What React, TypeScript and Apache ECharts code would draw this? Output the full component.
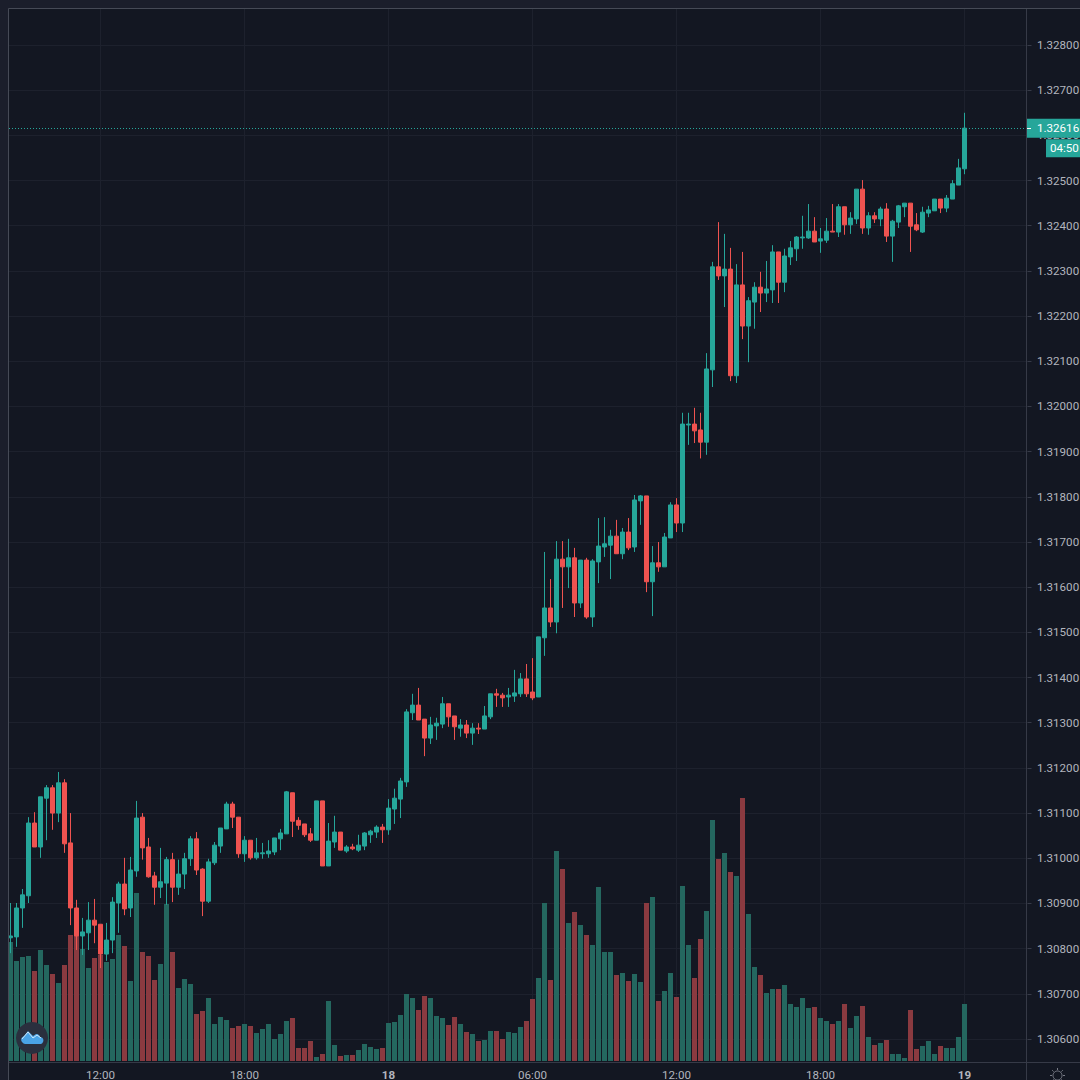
import React, { useEffect, useRef } from "react";
import * as echarts from "echarts";

const opens = [1.30824,1.30826,1.30890,1.30917,1.31078,1.31025,1.31133,1.31156,1.31100,1.31167,
1.31034,1.30890,1.30828,1.30835,1.30863,1.30854,1.30788,1.30819,1.30901,1.30943,
1.30890,1.30972,1.31091,1.31025,1.30961,1.30936,1.30945,1.30997,1.30936,1.30965,
1.30999,1.31043,1.30976,1.30905,1.30990,1.31027,1.31065,1.31120,1.31091,1.31010,
1.31040,1.31001,1.31010,1.31010,1.31014,1.31043,1.31054,1.31145,1.31084,1.31076,
1.31054,1.31040,1.31127,1.30983,1.31036,1.31058,1.31016,1.31025,1.31018,1.31027,
1.31052,1.31058,1.31069,1.31063,1.31109,1.31131,1.31169,1.31322,1.31339,1.31308,
1.31266,1.31293,1.31297,1.31342,1.31315,1.31288,1.31295,1.31277,1.31288,1.31286,
1.31313,1.31364,1.31361,1.31357,1.31359,1.31364,1.31397,1.31368,1.31357,1.31488,
1.31554,1.31523,1.31662,1.31645,1.31665,1.31565,1.31660,1.31534,1.31656,1.31689,
1.31693,1.31713,1.31674,1.31722,1.31689,1.31791,1.31802,1.31612,1.31654,1.31645,
1.31709,1.31782,1.31742,1.31959,1.31961,1.31948,1.31921,1.32081,1.32309,1.32289,
1.32304,1.32068,1.32269,1.32178,1.32231,1.32264,1.32251,1.32258,1.32342,1.32275,
1.32331,1.32349,1.32373,1.32373,1.32388,1.32366,1.32368,1.32388,1.32386,1.32442,
1.32402,1.32415,1.32481,1.32395,1.32422,1.32415,1.32437,1.32377,1.32408,1.32442,
1.32450,1.32402,1.32386,1.32428,1.32433,1.32459,1.32439,1.32459,1.32490,1.32526];

const closes = [1.30828,1.30890,1.30919,1.31078,1.31025,1.31136,1.31156,1.31100,1.31167,1.31032,
1.30890,1.30828,1.30837,1.30863,1.30852,1.30788,1.30819,1.30903,1.30943,1.30888,
1.30974,1.31089,1.31023,1.30959,1.30936,1.30948,1.30997,1.30936,1.30965,1.30999,
1.31043,1.30974,1.30905,1.30992,1.31029,1.31067,1.31120,1.31091,1.31010,1.31040,
1.31001,1.31012,1.31012,1.31016,1.31045,1.31056,1.31147,1.31082,1.31073,1.31052,
1.31040,1.31127,1.30983,1.31038,1.31058,1.31018,1.31025,1.31021,1.31029,1.31056,
1.31060,1.31069,1.31063,1.31111,1.31133,1.31171,1.31324,1.31339,1.31306,1.31266,
1.31295,1.31299,1.31342,1.31313,1.31291,1.31295,1.31277,1.31288,1.31286,1.31315,
1.31364,1.31361,1.31355,1.31361,1.31366,1.31397,1.31364,1.31355,1.31490,1.31554,
1.31523,1.31662,1.31645,1.31665,1.31565,1.31660,1.31534,1.31658,1.31691,1.31696,
1.31713,1.31674,1.31722,1.31687,1.31793,1.31802,1.31612,1.31654,1.31645,1.31711,
1.31782,1.31742,1.31961,1.31961,1.31946,1.31921,1.32083,1.32309,1.32289,1.32304,
1.32068,1.32269,1.32178,1.32234,1.32264,1.32251,1.32260,1.32342,1.32275,1.32333,
1.32351,1.32375,1.32375,1.32388,1.32364,1.32371,1.32388,1.32386,1.32442,1.32402,
1.32417,1.32481,1.32395,1.32422,1.32415,1.32437,1.32377,1.32410,1.32444,1.32450,
1.32399,1.32391,1.32430,1.32435,1.32459,1.32439,1.32461,1.32493,1.32528,1.32616];

const lows = [1.30790,1.30804,1.30846,1.30901,1.31025,1.31001,1.31040,1.31063,1.31080,1.31012,
1.30852,1.30797,1.30786,1.30797,1.30812,1.30757,1.30773,1.30790,1.30835,1.30874,
1.30870,1.30959,1.30997,1.30957,1.30897,1.30912,1.30897,1.30903,1.30919,1.30932,
1.30983,1.30963,1.30872,1.30901,1.30985,1.31012,1.31065,1.31067,1.31001,1.30992,
1.30997,1.30997,1.30999,1.31001,1.31007,1.31018,1.31054,1.31047,1.31063,1.31047,
1.31036,1.31040,1.30983,1.30983,1.31023,1.31018,1.31012,1.31018,1.31014,1.31018,
1.31034,1.31045,1.31034,1.31052,1.31076,1.31089,1.31158,1.31306,1.31306,1.31226,
1.31253,1.31262,1.31288,1.31291,1.31262,1.31269,1.31266,1.31251,1.31275,1.31286,
1.31308,1.31335,1.31335,1.31335,1.31346,1.31357,1.31357,1.31350,1.31357,1.31448,
1.31512,1.31498,1.31554,1.31598,1.31534,1.31554,1.31530,1.31512,1.31609,1.31667,
1.31618,1.31674,1.31662,1.31682,1.31678,1.31738,1.31589,1.31536,1.31634,1.31645,
1.31709,1.31722,1.31722,1.31915,1.31919,1.31885,1.31893,1.32043,1.32280,1.32220,
1.32056,1.32052,1.32149,1.32098,1.32172,1.32209,1.32231,1.32229,1.32229,1.32253,
1.32313,1.32322,1.32349,1.32371,1.32364,1.32340,1.32362,1.32386,1.32375,1.32380,
1.32382,1.32404,1.32382,1.32380,1.32406,1.32399,1.32364,1.32320,1.32395,1.32419,
1.32342,1.32388,1.32384,1.32419,1.32433,1.32428,1.32430,1.32459,1.32490,1.32514];

const highs = [1.30901,1.30901,1.30932,1.31091,1.31102,1.31136,1.31162,1.31162,1.31191,1.31175,
1.31100,1.30908,1.30868,1.30903,1.30910,1.30854,1.30857,1.30914,1.30948,1.31001,
1.31003,1.31127,1.31100,1.31045,1.30970,1.31023,1.31003,1.31012,1.30997,1.31012,
1.31049,1.31058,1.30978,1.30999,1.31036,1.31067,1.31125,1.31125,1.31091,1.31049,
1.31040,1.31045,1.31034,1.31040,1.31045,1.31065,1.31149,1.31145,1.31091,1.31076,
1.31067,1.31127,1.31127,1.31078,1.31094,1.31058,1.31029,1.31032,1.31052,1.31058,
1.31063,1.31073,1.31076,1.31131,1.31154,1.31178,1.31330,1.31364,1.31377,1.31308,
1.31313,1.31311,1.31357,1.31342,1.31315,1.31308,1.31306,1.31299,1.31299,1.31337,
1.31364,1.31375,1.31366,1.31377,1.31417,1.31410,1.31430,1.31443,1.31490,1.31678,
1.31618,1.31702,1.31702,1.31707,1.31687,1.31660,1.31665,1.31662,1.31753,1.31755,
1.31727,1.31749,1.31731,1.31753,1.31804,1.31804,1.31802,1.31691,1.31700,1.31720,
1.31788,1.31797,1.31986,1.31986,1.31997,1.31986,1.32118,1.32320,1.32408,1.32382,
1.32351,1.32315,1.32342,1.32242,1.32275,1.32298,1.32322,1.32357,1.32342,1.32349,
1.32366,1.32377,1.32422,1.32448,1.32419,1.32395,1.32417,1.32448,1.32448,1.32442,
1.32430,1.32481,1.32501,1.32430,1.32430,1.32442,1.32450,1.32413,1.32446,1.32450,
1.32450,1.32428,1.32442,1.32444,1.32459,1.32459,1.32468,1.32501,1.32548,1.32650];

const volumes = [119,100,104,105,90,111,96,87,78,96,
126,125,112,93,103,106,99,102,126,115,
80,168,109,105,81,97,157,109,73,82,
77,47,50,63,37,44,41,33,35,37,
35,28,32,37,22,27,40,43,13,13,
20,4,7,60,16,5,6,6,11,17,
14,12,13,38,39,46,67,63,51,65,
63,45,43,36,44,37,29,27,20,21,
30,30,22,29,28,34,40,62,83,158,
81,210,192,138,149,136,126,116,174,109,
109,86,88,80,87,79,158,164,60,70,
88,64,175,116,83,122,150,241,202,208,
189,185,263,147,94,86,68,72,72,76,
57,54,63,53,54,43,40,37,40,57,
33,45,55,24,16,18,21,7,7,3,
51,12,15,20,7,15,13,13,24,57];

const slotCount = 170;
const tickIndexes = [15, 39, 63, 87, 111, 135, 159];
const tickLabels = ["12:00", "18:00", "18", "06:00", "12:00", "18:00", "19"];
const lastPrice = 1.32616;
const lastPriceLabel = "1.32616";
const countdownLabel = "04:50";

const UP = "#26a69a";
const DOWN = "#ef5350";
const UP_VOL = "#24675f";
const DOWN_VOL = "#8a3a40";
const BG = "#131722";
const MARGIN = "#1b1e2b";
const LINE = "#363a47";
const GRID = "#1d212d";
const TEXT = "#b2b5be";
const FONT = "Roboto, sans-serif";
const FONT_SIZE = 11.6;

echarts.graphic.registerShape(
  "tvcloud",
  echarts.graphic.extendPath(
    "M1 12 C-1 9 1 7 3 6 L7 1 L12 6 L15 4 C18 4 19 6 19 7 C22 7 23 10 22 12 C21 14 20 14 19 14 L4 14 C3 14 2 13 1 12 Z",
    {}
  )
);

export default function App() {
  const ref = useRef<HTMLDivElement>(null);
  useEffect(() => {
    if (!ref.current) return;
    const chart = echarts.init(ref.current, undefined, { renderer: "svg" });
    const categories = Array.from({ length: slotCount }, (_, i) => String(i));
    const tickAt = (i: number) => tickIndexes.indexOf(i);

    chart.setOption({
      animation: false,
      backgroundColor: BG,
      grid: [
        { left: 7.5, top: -0.18, width: 1020, height: 1084.36, outerBoundsMode: "none" },
        { left: 7.5, top: 9, width: 1020, height: 1052, outerBoundsMode: "none" },
      ],
      xAxis: [
        {
          type: "category",
          gridIndex: 0,
          data: categories,
          show: false,
        },
        {
          type: "category",
          gridIndex: 1,
          data: categories,
          axisLine: { show: false },
          axisTick: { show: false, alignWithLabel: true, interval: (i: number) => tickAt(i) >= 0 },
          splitLine: {
            show: true,
            alignWithLabel: true,
            interval: (i: number) => tickAt(i) >= 0,
            lineStyle: { color: GRID, width: 1 },
          },
          axisLabel: {
            interval: (i: number) => tickAt(i) >= 0,
            margin: 8,
            lineHeight: 11,
            hideOverlap: false,
            color: TEXT,
            fontFamily: FONT,
            fontSize: FONT_SIZE,
            formatter: (_: string, i: number) => {
              const label = tickLabels[tickAt(i)] ?? "";
              return label.length === 2 ? `{b|${label}}` : label;
            },
            rich: { b: { fontWeight: "bold", color: TEXT, fontFamily: FONT, fontSize: FONT_SIZE, lineHeight: 11 } },
          },
        },
      ],
      yAxis: [
        {
          type: "value",
          gridIndex: 0,
          position: "right",
          min: 1.305,
          max: 1.329,
          interval: 0.001,
          axisLine: { show: false },
          axisTick: { show: true, length: 4, lineStyle: { color: LINE } },
          splitLine: { show: true, lineStyle: { color: GRID, width: 1 } },
          axisLabel: {
            margin: 9.5,
            color: TEXT,
            fontFamily: FONT,
            fontSize: FONT_SIZE,
            formatter: (v: number) => (v < 1.3055 || v > 1.3285 ? "" : v.toFixed(5)),
          },
        },
        {
          type: "value",
          gridIndex: 1,
          min: 0,
          max: 1052,
          show: false,
          splitLine: { show: false },
        },
      ],
      series: [
        {
          type: "bar",
          xAxisIndex: 1,
          yAxisIndex: 1,
          z: 1,
          barWidth: 5,
          data: volumes.map((v, i) => ({
            value: v,
            itemStyle: { color: closes[i] >= opens[i] ? UP_VOL : DOWN_VOL },
          })),
        },
        {
          type: "candlestick",
          xAxisIndex: 0,
          yAxisIndex: 0,
          z: 2,
          barWidth: 4,
          itemStyle: {
            color: UP,
            color0: DOWN,
            borderColor: UP,
            borderColor0: DOWN,
            borderWidth: 1,
          },
          data: opens.map((o, i) => [o, closes[i], lows[i], highs[i]]),
        },
      ],
    });

    const py = chart.convertToPixel({ yAxisIndex: 0 }, lastPrice) as number;
    const lineY = Math.floor(py) + 0.5;
    const sunTicks = Array.from({ length: 8 }, (_, k) => {
      const a = (k * Math.PI) / 4;
      return {
        type: "line",
        z: 50,
        shape: {
          x1: 1057.5 + 5.5 * Math.cos(a),
          y1: 1075.5 + 5.5 * Math.sin(a),
          x2: 1057.5 + 7.5 * Math.cos(a),
          y2: 1075.5 + 7.5 * Math.sin(a),
        },
        style: { stroke: "#787b86", lineWidth: 1 },
      };
    });

    chart.setOption({
      graphic: [
        { type: "line", z: 30, shape: { x1: 9, y1: lineY, x2: 1027, y2: lineY }, style: { stroke: UP, lineWidth: 1, lineDash: [1, 2] } },
        { type: "rect", z: 40, shape: { x: 0, y: 0, width: 1080, height: 9 }, style: { fill: MARGIN } },
        { type: "rect", z: 40, shape: { x: 0, y: 0, width: 9, height: 1080 }, style: { fill: MARGIN } },
        { type: "line", z: 41, shape: { x1: 8.5, y1: 8.5, x2: 1080, y2: 8.5 }, style: { stroke: "#464a56", lineWidth: 1 } },
        { type: "line", z: 41, shape: { x1: 8.5, y1: 8.5, x2: 8.5, y2: 1080 }, style: { stroke: "#464a56", lineWidth: 1 } },
        { type: "line", z: 41, shape: { x1: 1026.5, y1: 9, x2: 1026.5, y2: 1080 }, style: { stroke: LINE, lineWidth: 1 } },
        { type: "line", z: 41, shape: { x1: 9, y1: 1062.5, x2: 1080, y2: 1062.5 }, style: { stroke: LINE, lineWidth: 1 } },
        { type: "rect", z: 42, shape: { x: 1027, y: py - 9.5, width: 53, height: 19 }, style: { fill: UP } },
        { type: "line", z: 43, shape: { x1: 1027, y1: lineY, x2: 1031, y2: lineY }, style: { stroke: "#ffffff", lineWidth: 1 } },
        { type: "text", z: 43, style: { text: lastPriceLabel, x: 1037, y: py, fill: "#ffffff", font: `${FONT_SIZE}px ${FONT}`, verticalAlign: "middle", align: "left" } },
        { type: "rect", z: 42, shape: { x: 1046, y: py + 11, width: 34, height: 18 }, style: { fill: UP } },
        { type: "text", z: 43, style: { text: countdownLabel, x: 1050, y: py + 20, fill: "#ffffff", font: `${FONT_SIZE}px ${FONT}`, verticalAlign: "middle", align: "left" } },
        { type: "circle", z: 50, shape: { cx: 32, cy: 1038, r: 16 }, style: { fill: "#2a2f3e" } },
        { type: "tvcloud", z: 51, x: 21, y: 1030, scaleX: 1, scaleY: 1, style: { fill: "#4aa3e6" } },
        { type: "polyline", z: 52, shape: { points: [[22, 1039], [28, 1032], [33, 1038], [37, 1035], [41, 1038]] }, style: { stroke: "#cfe6f7", fill: "none", lineWidth: 1 } },
        { type: "circle", z: 50, shape: { cx: 1057.5, cy: 1075.5, r: 4.5 }, style: { fill: "none", stroke: "#787b86", lineWidth: 1 } },
        ...sunTicks,
      ],
    });

    return () => chart.dispose();
  }, []);
  return (
    <div
      ref={ref}
      style={{ position: "fixed", left: 0, top: 0, width: 1080, height: 1080 }}
    />
  );
}
